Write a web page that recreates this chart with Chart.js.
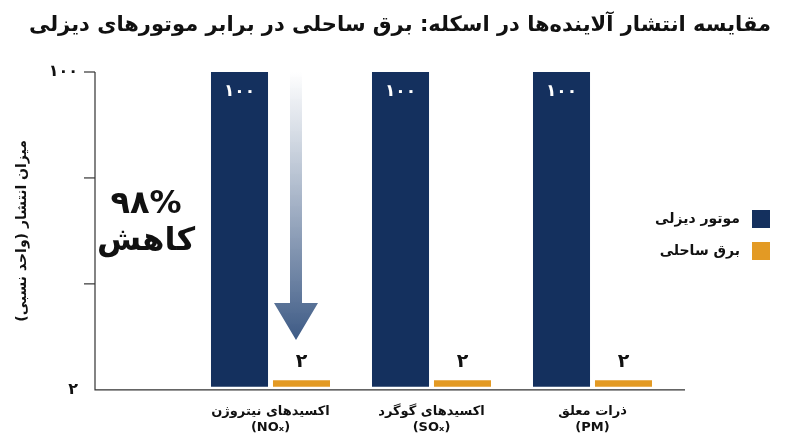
<!DOCTYPE html>
<html><head><meta charset="utf-8">
<script src="https://cdn.jsdelivr.net/npm/chart.js@4.4.1/dist/chart.umd.min.js"></script>
<style>html,body{margin:0;padding:0;background:#fff}#w{width:800px;height:447px}</style>
</head><body><div id="w"><canvas id="c"></canvas></div>
<script>
const title = "مقایسه انتشار آلاینده‌ها در اسکله: برق ساحلی در برابر موتورهای دیزلی";
const categories = [["اکسیدهای نیتروژن","(NOₓ)"],["اکسیدهای گوگرد","(SOₓ)"],["ذرات معلق","(PM)"]];
const seriesNames = ["موتور دیزلی","برق ساحلی"];
const dieselValues = [100,100,100];
const shoreValues = [2,2,2];
const valueLabels = [["۱۰۰","۱۰۰","۱۰۰"],["۲","۲","۲"]];
const yTickLabels = [{v:100,t:"۱۰۰"},{v:2,t:"۲"}];
const yTitle = "میزان انتشار (واحد نسبی)";
const reductionText = ["۹۸%","کاهش"];
const colors = ["#14305e","#e39a24"];
const F = "'DejaVu Sans','Noto Sans',sans-serif";

const deco = {
  id:'deco',
  afterDatasetsDraw(ch){
    const {ctx, chartArea:a, scales:{x,y}} = ch;
    ctx.save();
    // title
    ctx.fillStyle='#111'; ctx.textAlign='center'; ctx.textBaseline='middle';
    ctx.font='bold 21px '+F; ctx.fillText(title,400,26);
    // axes
    ctx.strokeStyle='#333'; ctx.lineWidth=1.2;
    ctx.beginPath(); ctx.moveTo(95,a.top); ctx.lineTo(95,a.bottom); ctx.lineTo(685,a.bottom); ctx.stroke();
    const h=a.bottom-a.top;
    [0,1/3,2/3].forEach(f=>{ctx.beginPath();ctx.moveTo(84,a.top+h*f);ctx.lineTo(95,a.top+h*f);ctx.stroke();});
    ctx.font='bold 16px '+F; ctx.textAlign='right';
    ctx.fillText(yTickLabels[0].t,78,y.getPixelForValue(yTickLabels[0].v));
    ctx.fillText(yTickLabels[1].t,78,a.bottom);
    // y title
    ctx.save(); ctx.translate(22,(a.top+a.bottom)/2); ctx.rotate(-Math.PI/2);
    ctx.textAlign='center'; ctx.font='bold 14px '+F; ctx.fillText(yTitle,0,0); ctx.restore();
    // value labels
    ch.data.datasets.forEach((ds,i)=>{
      ch.getDatasetMeta(i).data.forEach((b,j)=>{
        ctx.textAlign='center';
        if(i===0){ctx.fillStyle='#fff';ctx.font='bold 17px '+F;ctx.fillText(valueLabels[0][j],b.x,b.y+20);}
        else{ctx.fillStyle='#111';ctx.font='bold 19px '+F;ctx.fillText(valueLabels[1][j],b.x,b.y-18);}
      });
    });
    // arrow
    const ax=296, top=a.top, tip=340, hy=303;
    const g=ctx.createLinearGradient(0,top,0,tip);
    g.addColorStop(0,'rgba(255,255,255,0.9)'); g.addColorStop(1,'#3d5a85');
    ctx.fillStyle=g; ctx.beginPath();
    ctx.moveTo(ax-6,top);ctx.lineTo(ax+6,top);ctx.lineTo(ax+6,hy);ctx.lineTo(ax+22,hy);
    ctx.lineTo(ax,tip);ctx.lineTo(ax-22,hy);ctx.lineTo(ax-6,hy);ctx.closePath();ctx.fill();
    // reduction text
    ctx.fillStyle='#111'; ctx.textAlign='center'; ctx.font='bold 32px '+F;
    ctx.fillText(reductionText[0],146,205); ctx.fillText(reductionText[1],146,242);
    // legend
    ctx.font='bold 14px '+F; ctx.textAlign='right';
    seriesNames.forEach((n,i)=>{
      const yy=219+i*32;
      ctx.fillStyle=colors[i]; ctx.fillRect(752,yy-9,18,18);
      ctx.fillStyle='#111'; ctx.fillText(n,740,yy);
    });
    ctx.restore();
  }
};

new Chart(document.getElementById('c'),{
  type:'bar',
  data:{labels:categories,datasets:[
    {label:seriesNames[0],data:dieselValues,backgroundColor:colors[0],categoryPercentage:0.77,barPercentage:0.92},
    {label:seriesNames[1],data:shoreValues,backgroundColor:colors[1],categoryPercentage:0.77,barPercentage:0.92}
  ]},
  options:{
    responsive:true,maintainAspectRatio:false,animation:false,
    layout:{padding:{left:190,right:127,top:72,bottom:6}},
    plugins:{legend:{display:false},tooltip:{enabled:false},title:{display:false}},
    scales:{
      x:{grid:{display:false},border:{display:false},
         ticks:{color:'#111',font:{family:F,size:13,weight:'bold'},padding:6}},
      y:{display:false,min:-1,max:100}
    }
  },
  plugins:[deco]
});
</script></body></html>
